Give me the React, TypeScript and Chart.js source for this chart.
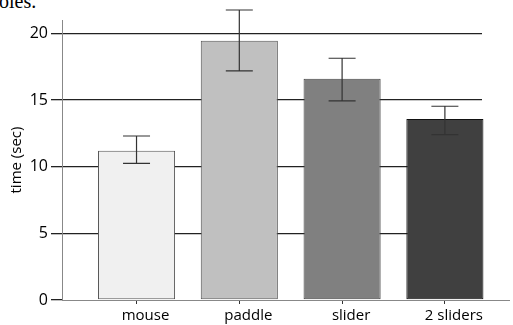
import { useEffect, useRef } from 'react';
import { Chart, registerables } from 'chart.js';

Chart.register(...registerables);

const categories = ['mouse', 'paddle', 'slider', '2 sliders'];
const meanTimes = [11.2, 19.45, 16.6, 13.58];
const errorHigh = [12.3, 21.75, 18.13, 14.53];
const errorLow = [10.25, 17.18, 14.93, 12.4];
const yTicks = [0, 5, 10, 15, 20];
const barColors = ['#f0f0f0', '#c0c0c0', '#808080', '#404040'];
const barBorders = ['#555555', '#555555', '#444444', '#111111'];

const FONT = '"Open Sans", "DejaVu Sans", sans-serif';

const errorBarPlugin = {
  id: 'errorBars',
  afterDatasetsDraw(chart: any) {
    const meta = chart.getDatasetMeta(0);
    const yScale = chart.scales.y;
    const ctx = chart.ctx;
    ctx.save();
    ctx.strokeStyle = '#333333';
    ctx.lineWidth = 1.2;
    meta.data.forEach((bar: any, i: number) => {
      const x = bar.x;
      const yh = yScale.getPixelForValue(errorHigh[i]);
      const yl = yScale.getPixelForValue(errorLow[i]);
      const cap = 13.5;
      ctx.beginPath();
      ctx.moveTo(x, yh);
      ctx.lineTo(x, yl);
      ctx.moveTo(x - cap, yh);
      ctx.lineTo(x + cap, yh);
      ctx.moveTo(x - cap, yl);
      ctx.lineTo(x + cap, yl);
      ctx.stroke();
    });
    ctx.restore();
  },
};

const axisExtendPlugin = {
  id: 'axisExtend',
  afterDraw(chart: any) {
    const { ctx, chartArea } = chart;
    ctx.save();
    ctx.strokeStyle = '#888888';
    ctx.lineWidth = 1;
    ctx.beginPath();
    ctx.moveTo(chartArea.right, chartArea.bottom + 0.5);
    ctx.lineTo(chartArea.right + 28, chartArea.bottom + 0.5);
    ctx.stroke();
    ctx.restore();
  },
};

export default function App() {
  const canvasRef = useRef<HTMLCanvasElement | null>(null);

  useEffect(() => {
    if (!canvasRef.current) return;
    const chart = new Chart(canvasRef.current, {
      type: 'bar',
      data: {
        datasets: [
          {
            data: meanTimes.map((v, i) => ({ x: i, y: v })),
            backgroundColor: barColors,
            borderColor: barBorders,
            borderWidth: 1,
            borderSkipped: false,
            barPercentage: 0.75,
            categoryPercentage: 1,
            clip: false as any,
          },
        ],
      },
      options: {
        animation: false,
        responsive: false,
        devicePixelRatio: 1,
        layout: { padding: { top: 20, right: 31, left: 0, bottom: 0 } },
        plugins: {
          legend: { display: false },
          tooltip: { enabled: false },
        },
        scales: {
          x: {
            type: 'linear',
            min: -0.725,
            max: 3.361,
            offset: false,
            afterBuildTicks: (scale: any) => {
              scale.ticks = categories.map((_, i) => ({ value: i }));
            },
            afterFit: (scale: any) => {
              scale.height = 25;
            },
            grid: {
              offset: false,
              drawOnChartArea: false,
              drawTicks: true,
              tickLength: 4,
              color: '#333333',
            },
            border: { color: '#888888' },
            ticks: {
              callback: (v: any) => categories[v as number] ?? '',
              font: { family: FONT, size: 15 },
              color: '#000000',
              padding: 3,
              labelOffset: 9,
              maxRotation: 0,
            },
          },
          y: {
            min: 0,
            max: 21,
            afterBuildTicks: (scale: any) => {
              scale.ticks = yTicks.map((v) => ({ value: v }));
            },
            afterFit: (scale: any) => {
              scale.width = 62;
            },
            grid: {
              color: (c: any) => (c.tick && c.tick.value === 0 ? 'rgba(0,0,0,0)' : '#222222'),
              tickColor: '#222222',
              tickLength: 11,
              lineWidth: 1.3,
            },
            border: { color: '#888888' },
            ticks: {
              font: { family: FONT, size: 16 },
              color: '#000000',
              padding: 3,
            },
            title: {
              display: true,
              text: 'time (sec)',
              font: { family: FONT, size: 15 },
              color: '#000000',
              padding: { top: 8, bottom: 0 },
            },
          },
        },
      },
      plugins: [errorBarPlugin, axisExtendPlugin],
    });
    return () => chart.destroy();
  }, []);

  return (
    <div style={{ position: 'absolute', left: 0, top: 0, width: 513, height: 325, overflow: 'hidden', background: '#ffffff' }}>
      <div
        style={{
          position: 'absolute',
          left: -1,
          top: -10,
          fontFamily: '"Liberation Serif", serif',
          fontSize: 20,
          lineHeight: 'normal',
          color: '#000',
          whiteSpace: 'nowrap',
        }}
      >
        oles.
      </div>
      <canvas ref={canvasRef} width={513} height={325} style={{ position: 'absolute', left: 0, top: 0 }} />
    </div>
  );
}
